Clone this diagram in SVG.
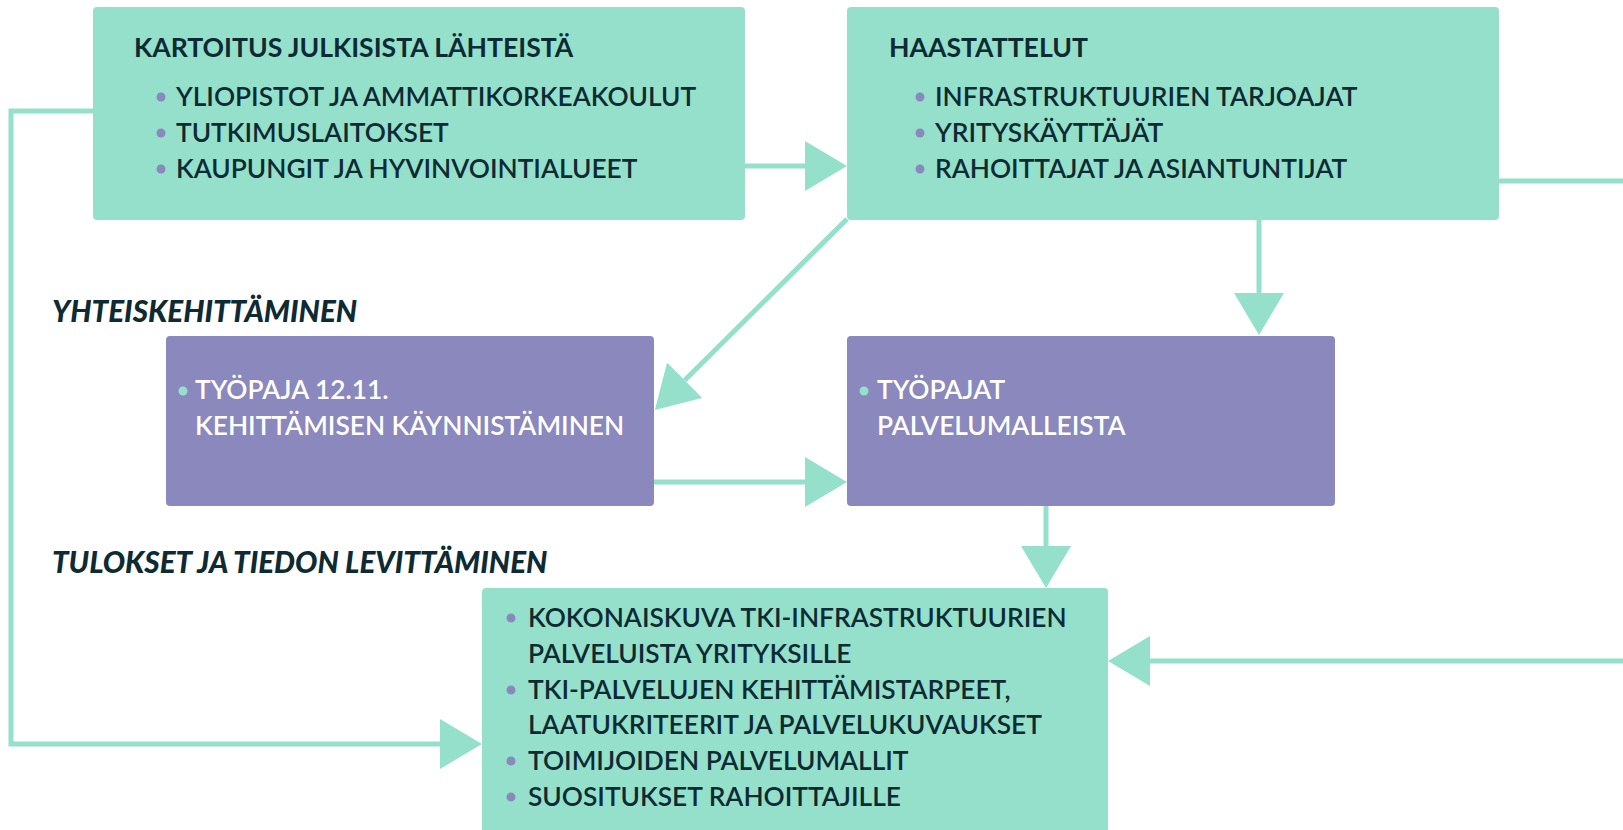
<svg xmlns="http://www.w3.org/2000/svg" width="1623" height="830" viewBox="0 0 1623 830">
  <style>
    .mint { fill: #94E0CB; }
    .lav { fill: #8A88BD; }
    .t { font-family: Lato, "Open Sans", "Liberation Sans", sans-serif; font-size: 26.3px; }
    .title { font-weight: 700; fill: #0E2A33; font-size: 26.6px; }
    .item { font-weight: 600; fill: #0E2A33; }
    .itemw { font-weight: 600; fill: #FFFFFF; }
    .sect { font-weight: 900; font-style: italic; fill: #0E2A33; font-size: 29.6px; }
    .dotp { fill: #8A88BD; }
    .dott { fill: #94E0CB; }
    .conn { fill: none; stroke: #94E0CB; stroke-width: 5; marker-end: url(#ah); }
  </style>
  <defs>
    <marker id="ah" markerUnits="userSpaceOnUse" markerWidth="42" markerHeight="50" viewBox="0 0 42 50" refX="0" refY="25" orient="auto">
      <path d="M0,0 L42,25 L0,50 Z" fill="#94E0CB"/>
    </marker>
  </defs>
  <rect width="1623" height="830" fill="#FFFFFF"/>

  <g id="connectors">
    <path class="conn" d="M745,166 H805"/>
    <path class="conn" d="M1259,219 V293"/>
    <path class="conn" d="M847,219 L684.7,380.3"/>
    <path class="conn" d="M654,482 H805"/>
    <path class="conn" d="M1046,506 V546"/>
    <path class="conn" d="M93,111 H11 V744 H440"/>
    <path class="conn" d="M1499,181 H1640 V661 H1150"/>
  </g>

  <g id="node-kartoitus">
    <rect class="mint" x="93" y="7" width="652" height="213" rx="4"/>
    <text class="t title" x="134" y="57">KARTOITUS JULKISISTA LÄHTEISTÄ</text>
    <circle class="dotp" cx="161" cy="97" r="4.5"/>
    <text class="t item" x="176" y="106">YLIOPISTOT JA AMMATTIKORKEAKOULUT</text>
    <circle class="dotp" cx="161" cy="133" r="4.5"/>
    <text class="t item" x="176" y="142">TUTKIMUSLAITOKSET</text>
    <circle class="dotp" cx="161" cy="169" r="4.5"/>
    <text class="t item" x="176" y="178">KAUPUNGIT JA HYVINVOINTIALUEET</text>
  </g>

  <g id="node-haastattelut">
    <rect class="mint" x="847" y="7" width="652" height="213" rx="4"/>
    <text class="t title" x="889" y="57">HAASTATTELUT</text>
    <circle class="dotp" cx="920" cy="97" r="4.5"/>
    <text class="t item" x="935" y="106">INFRASTRUKTUURIEN TARJOAJAT</text>
    <circle class="dotp" cx="920" cy="133" r="4.5"/>
    <text class="t item" x="935" y="142">YRITYSKÄYTTÄJÄT</text>
    <circle class="dotp" cx="920" cy="169" r="4.5"/>
    <text class="t item" x="935" y="178">RAHOITTAJAT JA ASIANTUNTIJAT</text>
  </g>

  <g id="label-yhteiskehittaminen">
    <text class="t sect" x="52" y="322">YHTEISKEHITTÄMINEN</text>
  </g>

  <g id="node-tyopaja">
    <rect class="lav" x="166" y="336" width="488" height="170" rx="4"/>
    <circle class="dott" cx="183" cy="391" r="4.5"/>
    <text class="t itemw" x="195" y="399">TYÖPAJA 12.11.</text>
    <text class="t itemw" x="195" y="435">KEHITTÄMISEN KÄYNNISTÄMINEN</text>
  </g>

  <g id="node-tyopajat">
    <rect class="lav" x="847" y="336" width="488" height="170" rx="4"/>
    <circle class="dott" cx="864" cy="391" r="4.5"/>
    <text class="t itemw" x="877" y="399">TYÖPAJAT</text>
    <text class="t itemw" x="877" y="435">PALVELUMALLEISTA</text>
  </g>

  <g id="label-tulokset">
    <text class="t sect" x="52" y="573">TULOKSET JA TIEDON LEVITTÄMINEN</text>
  </g>

  <g id="node-tulokset">
    <rect class="mint" x="482" y="588" width="626" height="250" rx="4"/>
    <circle class="dotp" cx="511" cy="618" r="4.5"/>
    <text class="t item" x="528" y="627">KOKONAISKUVA TKI-INFRASTRUKTUURIEN</text>
    <text class="t item" x="528" y="663">PALVELUISTA YRITYKSILLE</text>
    <circle class="dotp" cx="511" cy="690" r="4.5"/>
    <text class="t item" x="528" y="699">TKI-PALVELUJEN KEHITTÄMISTARPEET,</text>
    <text class="t item" x="528" y="734">LAATUKRITEERIT JA PALVELUKUVAUKSET</text>
    <circle class="dotp" cx="511" cy="761" r="4.5"/>
    <text class="t item" x="528" y="770">TOIMIJOIDEN PALVELUMALLIT</text>
    <circle class="dotp" cx="511" cy="797" r="4.5"/>
    <text class="t item" x="528" y="806">SUOSITUKSET RAHOITTAJILLE</text>
  </g>
</svg>
